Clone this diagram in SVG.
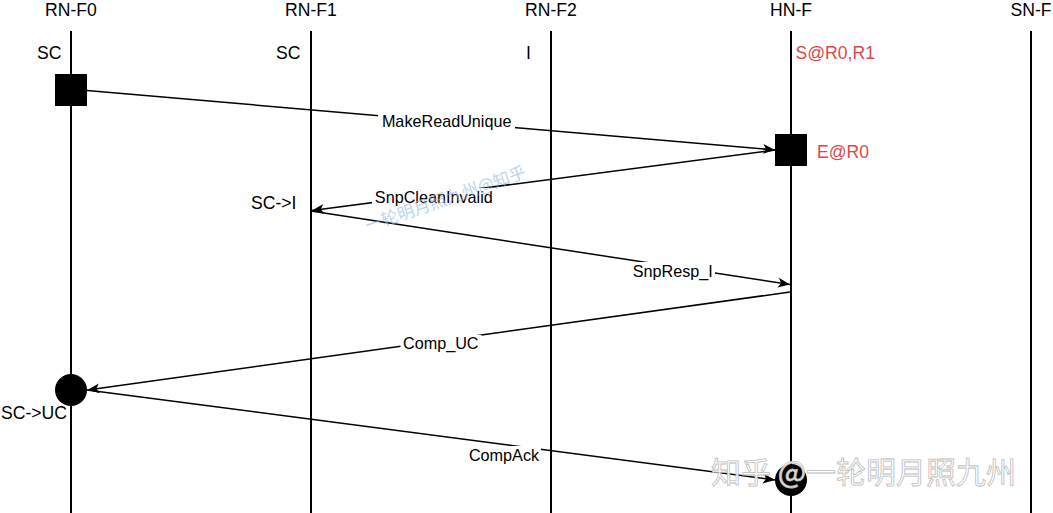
<svg xmlns="http://www.w3.org/2000/svg" width="1053" height="513" viewBox="0 0 1053 513">
  <style>
    .hdr { font-family: "Liberation Sans", Arial, sans-serif; font-size: 17.6px; fill: #000; text-anchor: middle; }
    .st { font-family: "Liberation Sans", Arial, sans-serif; font-size: 17.6px; fill: #000; }
    .red { fill: #DB4A4A; }
    .lbl { font-family: "Liberation Sans", Arial, sans-serif; font-size: 16.2px; fill: #000; text-anchor: middle; }
    .life { stroke: #000; stroke-width: 2; fill: none; }
    .msg { stroke: #000; stroke-width: 1.5; fill: none; marker-end: url(#arr); }
    .bg { fill: #fff; }
    .wm1 { font-family: "Noto Sans CJK SC", sans-serif; font-size: 17px; fill: #8DB6E8; fill-opacity: 0.6; text-anchor: middle; }
    .wm2 { font-family: "Noto Sans CJK SC", sans-serif; font-size: 30px; fill: #fff; fill-opacity: 0.9; stroke: #BDBDBD; stroke-width: 0.8; }
  </style>
  <defs>
    <marker id="arr" markerUnits="userSpaceOnUse" markerWidth="13" markerHeight="11" refX="12" refY="5" orient="auto">
      <path d="M0,0 L12,5 L0,10 L3,5 Z" fill="#000"/>
    </marker>
  </defs>
  <rect width="1053" height="513" fill="#fff"/>

  <g id="rn-f0">
    <text class="hdr" x="71" y="16">RN-F0</text>
    <line class="life" x1="71" y1="31" x2="71" y2="513"/>
    <text class="st" x="61.5" y="59" text-anchor="end">SC</text>
    <rect x="55" y="74" width="32" height="32" fill="#000"/>
    <circle cx="71" cy="390" r="16" fill="#000"/>
    <text class="st" x="67" y="418.5" text-anchor="end">SC-&gt;UC</text>
  </g>
  <g id="rn-f1">
    <text class="hdr" x="311" y="16">RN-F1</text>
    <line class="life" x1="311" y1="31" x2="311" y2="513"/>
    <text class="st" x="300.5" y="59" text-anchor="end">SC</text>
    <text class="st" x="296.5" y="208.5" text-anchor="end">SC-&gt;I</text>
  </g>
  <g id="rn-f2">
    <text class="hdr" x="551" y="16">RN-F2</text>
    <line class="life" x1="551" y1="31" x2="551" y2="513"/>
    <text class="st" x="531" y="59" text-anchor="end">I</text>
  </g>
  <g id="hn-f">
    <text class="hdr" x="791" y="16">HN-F</text>
    <line class="life" x1="791" y1="31" x2="791" y2="513"/>
    <text class="st red" x="795.5" y="59">S@R0,R1</text>
    <rect x="775" y="134" width="32" height="32" fill="#000"/>
    <text class="st red" x="817" y="157.5">E@R0</text>
    <circle cx="791" cy="480" r="16" fill="#000"/>
  </g>
  <g id="sn-f">
    <text class="hdr" x="1031" y="16">SN-F</text>
    <line class="life" x1="1031" y1="31" x2="1031" y2="513" stroke-width="1.6"/>
  </g>

  <g id="connectors">
    <line class="msg" x1="87" y1="90.5" x2="775" y2="150"/>
    <line class="msg" x1="775" y1="150" x2="312" y2="210.5"/>
    <line class="msg" x1="311" y1="211" x2="790" y2="284.5"/>
    <line class="msg" x1="790" y1="292" x2="87.5" y2="390"/>
    <line class="msg" x1="87" y1="390" x2="775" y2="480"/>

    <rect class="bg" x="378" y="112.5" width="137" height="19.5"/>
    <text class="lbl" x="446.7" y="127">MakeReadUnique</text>
    <rect class="bg" x="372" y="188" width="123.5" height="19.5"/>
    <text class="lbl" x="433.8" y="203.2">SnpCleanInvalid</text>
    <rect class="bg" x="630.5" y="262" width="84.5" height="19.5"/>
    <text class="lbl" x="672.7" y="276.6">SnpResp_I</text>
    <rect class="bg" x="400.5" y="335" width="81" height="19.5"/>
    <text class="lbl" x="440.8" y="349.4">Comp_UC</text>
    <rect class="bg" x="467" y="446" width="74" height="19.5"/>
    <text class="lbl" x="504" y="460.7">CompAck</text>
  </g>

  <g id="watermarks">
    <text class="wm1" x="445" y="197.5" dominant-baseline="central" transform="rotate(-19 445 197.5)">一轮明月照九州@知乎</text>
    <text class="wm2" x="711" y="483">知乎 @一轮明月照九州</text>
  </g>
</svg>
